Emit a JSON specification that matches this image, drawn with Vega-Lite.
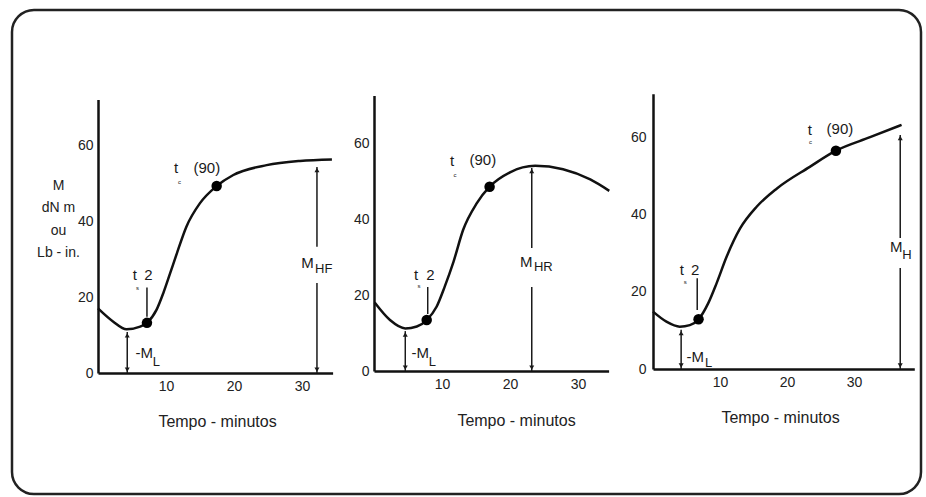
{
  "$schema": "https://vega.github.io/schema/vega-lite/v6.json",
  "width": 909,
  "height": 484,
  "autosize": {"type": "none"},
  "padding": {"left": 12, "top": 10, "right": 5, "bottom": 3},
  "background": "#ffffff",
  "config": {
    "view": {"stroke": "#222222", "strokeWidth": 2.5, "cornerRadius": 22},
    "axis": {
      "ticks": false, "grid": false,
      "domainWidth": 2.5, "domainColor": "#111111",
      "labelFont": "Liberation Sans", "labelFontSize": 14, "labelColor": "#222222", "labelFlush": false,
      "titleFont": "Liberation Sans", "titleFontSize": 16, "titleFontWeight": "normal", "titleColor": "#222222"
    },
    "text": {"font": "Liberation Sans", "color": "#1a1a1a", "align": "center", "baseline": "middle"}
  },
  "datasets": {
    "p1": [
      {"kind": "curve", "t": 0, "M": 17.0}, {"kind": "curve", "t": 2.25, "M": 13.5}, {"kind": "curve", "t": 4.2, "M": 11.5},
      {"kind": "curve", "t": 6.2, "M": 12.2}, {"kind": "curve", "t": 7.2, "M": 13.2}, {"kind": "curve", "t": 8.6, "M": 16.6},
      {"kind": "curve", "t": 9.6, "M": 21.0}, {"kind": "curve", "t": 10.6, "M": 26.2}, {"kind": "curve", "t": 11.6, "M": 31.5},
      {"kind": "curve", "t": 13.0, "M": 38.5}, {"kind": "curve", "t": 15.0, "M": 44.7}, {"kind": "curve", "t": 17.45, "M": 49.2},
      {"kind": "curve", "t": 19.9, "M": 52.1}, {"kind": "curve", "t": 24.8, "M": 54.7}, {"kind": "curve", "t": 29.7, "M": 55.8},
      {"kind": "curve", "t": 34.4, "M": 56.2},
      {"kind": "dot", "t": 7.2, "M": 13.2}, {"kind": "dot", "t": 17.45, "M": 49.2},
      {"kind": "rule", "t": 7.2, "M": 22.5, "M2": 14.8},
      {"kind": "rule", "t": 4.3, "M": 0, "M2": 10.8},
      {"kind": "rule", "t": 32.2, "M": 0, "M2": 23.7},
      {"kind": "rule", "t": 32.2, "M": 33.2, "M2": 54.2},
      {"kind": "up", "t": 4.3, "M": 9.9}, {"kind": "up", "t": 32.2, "M": 53.4},
      {"kind": "down", "t": 4.3, "M": 0.9}, {"kind": "down", "t": 32.2, "M": 0.9},
      {"kind": "text", "t": 5.4, "M": 25.8, "label": "t"}, {"kind": "text", "t": 7.4, "M": 25.8, "label": "2"},
      {"kind": "text", "t": 11.5, "M": 53.9, "label": "t"}, {"kind": "text", "t": 16.0, "M": 53.9, "label": "(90)"},
      {"kind": "text", "t": 6.8, "M": 5.2, "label": "-M"}, {"kind": "text", "t": 30.8, "M": 28.9, "label": "M"},
      {"kind": "sub", "t": 8.6, "M": 2.8, "label": "L"}, {"kind": "sub", "t": 33.2, "M": 27.4, "label": "HF"},
      {"kind": "tiny", "t": 5.8, "M": 22.4, "label": "s"}, {"kind": "tiny", "t": 12.0, "M": 50.3, "label": "c"}
    ],
    "p2": [
      {"kind": "curve", "t": 0.1, "M": 18.0}, {"kind": "curve", "t": 2.35, "M": 13.4}, {"kind": "curve", "t": 4.6, "M": 11.2},
      {"kind": "curve", "t": 6.3, "M": 11.7}, {"kind": "curve", "t": 7.75, "M": 13.4}, {"kind": "curve", "t": 9.2, "M": 16.9},
      {"kind": "curve", "t": 10.4, "M": 22.2}, {"kind": "curve", "t": 11.7, "M": 28.8}, {"kind": "curve", "t": 13.1, "M": 37.1},
      {"kind": "curve", "t": 15.1, "M": 44.1}, {"kind": "curve", "t": 17.0, "M": 48.5}, {"kind": "curve", "t": 20.0, "M": 52.3},
      {"kind": "curve", "t": 23.7, "M": 54.0}, {"kind": "curve", "t": 27.8, "M": 53.1}, {"kind": "curve", "t": 31.8, "M": 50.4},
      {"kind": "curve", "t": 34.6, "M": 47.4},
      {"kind": "dot", "t": 7.75, "M": 13.4}, {"kind": "dot", "t": 17.0, "M": 48.5},
      {"kind": "rule", "t": 7.9, "M": 22.1, "M2": 15.0},
      {"kind": "rule", "t": 4.6, "M": 0, "M2": 10.5},
      {"kind": "rule", "t": 23.2, "M": 0, "M2": 22.1},
      {"kind": "rule", "t": 23.2, "M": 32.4, "M2": 53.4},
      {"kind": "up", "t": 4.6, "M": 9.6}, {"kind": "up", "t": 23.2, "M": 52.6},
      {"kind": "down", "t": 4.6, "M": 0.9}, {"kind": "down", "t": 23.2, "M": 0.9},
      {"kind": "text", "t": 6.2, "M": 25.3, "label": "t"}, {"kind": "text", "t": 8.3, "M": 25.3, "label": "2"},
      {"kind": "text", "t": 11.5, "M": 55.3, "label": "t"}, {"kind": "text", "t": 16.0, "M": 55.5, "label": "(90)"},
      {"kind": "text", "t": 6.8, "M": 4.7, "label": "-M"}, {"kind": "text", "t": 22.4, "M": 28.7, "label": "M"},
      {"kind": "sub", "t": 24.9, "M": 27.4, "label": "HR"}, {"kind": "sub", "t": 8.6, "M": 2.4, "label": "L"},
      {"kind": "tiny", "t": 6.6, "M": 22.4, "label": "s"}, {"kind": "tiny", "t": 11.9, "M": 51.6, "label": "c"}
    ],
    "p3": [
      {"kind": "curve", "t": 0, "M": 14.9}, {"kind": "curve", "t": 2.0, "M": 12.3}, {"kind": "curve", "t": 4.0, "M": 11.0},
      {"kind": "curve", "t": 5.5, "M": 11.4}, {"kind": "curve", "t": 6.8, "M": 12.9}, {"kind": "curve", "t": 8.25, "M": 17.1},
      {"kind": "curve", "t": 9.5, "M": 22.3}, {"kind": "curve", "t": 11.0, "M": 29.2}, {"kind": "curve", "t": 13.0, "M": 36.5},
      {"kind": "curve", "t": 15.5, "M": 42.2}, {"kind": "curve", "t": 18.5, "M": 46.9}, {"kind": "curve", "t": 23.4, "M": 52.5},
      {"kind": "curve", "t": 27.3, "M": 56.7}, {"kind": "curve", "t": 32.4, "M": 60.2}, {"kind": "curve", "t": 37.1, "M": 63.4},
      {"kind": "dot", "t": 6.8, "M": 12.9}, {"kind": "dot", "t": 27.3, "M": 56.7},
      {"kind": "rule", "t": 6.6, "M": 23.6, "M2": 15.3},
      {"kind": "rule", "t": 4.2, "M": 0, "M2": 10.2},
      {"kind": "rule", "t": 36.9, "M": 0, "M2": 26.2},
      {"kind": "rule", "t": 36.9, "M": 34.0, "M2": 60.8},
      {"kind": "up", "t": 4.2, "M": 9.3}, {"kind": "up", "t": 36.9, "M": 60.0},
      {"kind": "down", "t": 4.2, "M": 0.9}, {"kind": "down", "t": 36.9, "M": 0.9},
      {"kind": "text", "t": 4.3, "M": 25.7, "label": "t"}, {"kind": "text", "t": 6.3, "M": 25.7, "label": "2"},
      {"kind": "text", "t": 23.4, "M": 62.1, "label": "t"}, {"kind": "text", "t": 27.9, "M": 62.3, "label": "(90)"},
      {"kind": "text", "t": 6.3, "M": 3.2, "label": "-M"}, {"kind": "text", "t": 36.3, "M": 31.7, "label": "M"},
      {"kind": "sub", "t": 8.3, "M": 1.6, "label": "L"}, {"kind": "sub", "t": 37.9, "M": 29.6, "label": "H"},
      {"kind": "tiny", "t": 4.8, "M": 22.6, "label": "s"}, {"kind": "tiny", "t": 23.5, "M": 59.0, "label": "c"}
    ]
  },
  "resolve": {"scale": {"x": "independent", "y": "independent"}, "axis": {"x": "independent", "y": "independent"}},
  "layer": [
    {
      "data": {"name": "p1"},
      "transform": [{"filter": "datum.kind == 'curve'"}],
      "mark": {"type": "line", "interpolate": "monotone", "color": "#111111", "strokeWidth": 2.5},
      "encoding": {
        "x": {"field": "t", "type": "quantitative",
          "scale": {"domain": [0, 34.5], "range": [86, 320.6], "nice": false, "zero": false},
          "axis": {"orient": "bottom", "offset": -121, "values": [10, 20, 30], "labelPadding": 6,
            "title": "Tempo - minutos", "titleX": 205, "titleY": 48, "titleAlign": "center", "titleBaseline": "middle"}},
        "y": {"field": "M", "type": "quantitative",
          "scale": {"domain": [0, 72], "range": [363, 89.4], "nice": false, "zero": false},
          "axis": {"orient": "left", "offset": -86, "values": [0, 20, 40, 60], "labelPadding": 5,
            "title": ["M", "dN m", "ou", "Lb - in."], "titleAngle": 0, "titleX": -40, "titleY": 175,
            "titleAlign": "center", "titleBaseline": "middle", "titleLineHeight": 22.5, "titleFontSize": 14}}
      }
    },
    {
      "data": {"name": "p1"},
      "transform": [{"filter": "datum.kind == 'rule'"}],
      "mark": {"type": "rule", "color": "#1a1a1a", "strokeWidth": 1.5},
      "encoding": {
        "x": {"field": "t", "type": "quantitative", "scale": {"domain": [0, 34.5], "range": [86, 320.6], "nice": false, "zero": false}, "axis": null},
        "y": {"field": "M", "type": "quantitative", "scale": {"domain": [0, 72], "range": [363, 89.4], "nice": false, "zero": false}, "axis": null},
        "y2": {"field": "M2"}
      }
    },
    {
      "data": {"name": "p1"},
      "transform": [{"filter": "datum.kind == 'up' || datum.kind == 'down'"}],
      "mark": {"type": "point", "filled": true, "size": 25, "color": "#1a1a1a", "opacity": 1},
      "encoding": {
        "x": {"field": "t", "type": "quantitative", "scale": {"domain": [0, 34.5], "range": [86, 320.6], "nice": false, "zero": false}, "axis": null},
        "y": {"field": "M", "type": "quantitative", "scale": {"domain": [0, 72], "range": [363, 89.4], "nice": false, "zero": false}, "axis": null},
        "shape": {"field": "kind", "type": "nominal", "scale": {"domain": ["up", "down"], "range": ["triangle-up", "triangle-down"]}, "legend": null}
      }
    },
    {
      "data": {"name": "p1"},
      "transform": [{"filter": "datum.kind == 'dot'"}],
      "mark": {"type": "point", "shape": "circle", "filled": true, "size": 110, "color": "#000000", "opacity": 1},
      "encoding": {
        "x": {"field": "t", "type": "quantitative", "scale": {"domain": [0, 34.5], "range": [86, 320.6], "nice": false, "zero": false}, "axis": null},
        "y": {"field": "M", "type": "quantitative", "scale": {"domain": [0, 72], "range": [363, 89.4], "nice": false, "zero": false}, "axis": null}
      }
    },
    {
      "data": {"name": "p1"},
      "transform": [{"filter": "datum.kind == 'text' || datum.kind == 'sub' || datum.kind == 'tiny'"}],
      "mark": {"type": "text"},
      "encoding": {
        "x": {"field": "t", "type": "quantitative", "scale": {"domain": [0, 34.5], "range": [86, 320.6], "nice": false, "zero": false}, "axis": null},
        "y": {"field": "M", "type": "quantitative", "scale": {"domain": [0, 72], "range": [363, 89.4], "nice": false, "zero": false}, "axis": null},
        "text": {"field": "label"},
        "size": {"field": "kind", "type": "ordinal", "scale": {"type": "ordinal", "domain": ["text", "sub", "tiny"], "range": [15, 13, 6]}, "legend": null}
      }
    },
    {
      "data": {"name": "p2"},
      "transform": [{"filter": "datum.kind == 'curve'"}],
      "mark": {"type": "line", "interpolate": "monotone", "color": "#111111", "strokeWidth": 2.5},
      "encoding": {
        "x": {"field": "t", "type": "quantitative",
          "scale": {"domain": [0, 34.5], "range": [362, 596.6], "nice": false, "zero": false},
          "axis": {"orient": "bottom", "offset": -123, "values": [10, 20, 30], "labelPadding": 6,
            "title": "Tempo - minutos", "titleX": 504, "titleY": 49, "titleAlign": "center", "titleBaseline": "middle"}},
        "y": {"field": "M", "type": "quantitative",
          "scale": {"domain": [0, 72.5], "range": [361, 85.5], "nice": false, "zero": false},
          "axis": {"orient": "left", "offset": -362, "values": [0, 20, 40, 60], "labelPadding": 5, "title": null}}
      }
    },
    {
      "data": {"name": "p2"},
      "transform": [{"filter": "datum.kind == 'rule'"}],
      "mark": {"type": "rule", "color": "#1a1a1a", "strokeWidth": 1.5},
      "encoding": {
        "x": {"field": "t", "type": "quantitative", "scale": {"domain": [0, 34.5], "range": [362, 596.6], "nice": false, "zero": false}, "axis": null},
        "y": {"field": "M", "type": "quantitative", "scale": {"domain": [0, 72.5], "range": [361, 85.5], "nice": false, "zero": false}, "axis": null},
        "y2": {"field": "M2"}
      }
    },
    {
      "data": {"name": "p2"},
      "transform": [{"filter": "datum.kind == 'up' || datum.kind == 'down'"}],
      "mark": {"type": "point", "filled": true, "size": 25, "color": "#1a1a1a", "opacity": 1},
      "encoding": {
        "x": {"field": "t", "type": "quantitative", "scale": {"domain": [0, 34.5], "range": [362, 596.6], "nice": false, "zero": false}, "axis": null},
        "y": {"field": "M", "type": "quantitative", "scale": {"domain": [0, 72.5], "range": [361, 85.5], "nice": false, "zero": false}, "axis": null},
        "shape": {"field": "kind", "type": "nominal", "scale": {"domain": ["up", "down"], "range": ["triangle-up", "triangle-down"]}, "legend": null}
      }
    },
    {
      "data": {"name": "p2"},
      "transform": [{"filter": "datum.kind == 'dot'"}],
      "mark": {"type": "point", "shape": "circle", "filled": true, "size": 110, "color": "#000000", "opacity": 1},
      "encoding": {
        "x": {"field": "t", "type": "quantitative", "scale": {"domain": [0, 34.5], "range": [362, 596.6], "nice": false, "zero": false}, "axis": null},
        "y": {"field": "M", "type": "quantitative", "scale": {"domain": [0, 72.5], "range": [361, 85.5], "nice": false, "zero": false}, "axis": null}
      }
    },
    {
      "data": {"name": "p2"},
      "transform": [{"filter": "datum.kind == 'text' || datum.kind == 'sub' || datum.kind == 'tiny'"}],
      "mark": {"type": "text"},
      "encoding": {
        "x": {"field": "t", "type": "quantitative", "scale": {"domain": [0, 34.5], "range": [362, 596.6], "nice": false, "zero": false}, "axis": null},
        "y": {"field": "M", "type": "quantitative", "scale": {"domain": [0, 72.5], "range": [361, 85.5], "nice": false, "zero": false}, "axis": null},
        "text": {"field": "label"},
        "size": {"field": "kind", "type": "ordinal", "scale": {"type": "ordinal", "domain": ["text", "sub", "tiny"], "range": [15, 13, 6]}, "legend": null}
      }
    },
    {
      "data": {"name": "p3"},
      "transform": [{"filter": "datum.kind == 'curve'"}],
      "mark": {"type": "line", "interpolate": "monotone", "color": "#111111", "strokeWidth": 2.5},
      "encoding": {
        "x": {"field": "t", "type": "quantitative",
          "scale": {"domain": [0, 39], "range": [641, 902.3], "nice": false, "zero": false},
          "axis": {"orient": "bottom", "offset": -125, "values": [10, 20, 30], "labelPadding": 6,
            "title": "Tempo - minutos", "titleX": 768, "titleY": 48, "titleAlign": "center", "titleBaseline": "middle"}},
        "y": {"field": "M", "type": "quantitative",
          "scale": {"domain": [0, 71.5], "range": [359, 83.7], "nice": false, "zero": false},
          "axis": {"orient": "left", "offset": -641, "values": [0, 20, 40, 60], "labelPadding": 7, "title": null}}
      }
    },
    {
      "data": {"name": "p3"},
      "transform": [{"filter": "datum.kind == 'rule'"}],
      "mark": {"type": "rule", "color": "#1a1a1a", "strokeWidth": 1.5},
      "encoding": {
        "x": {"field": "t", "type": "quantitative", "scale": {"domain": [0, 39], "range": [641, 902.3], "nice": false, "zero": false}, "axis": null},
        "y": {"field": "M", "type": "quantitative", "scale": {"domain": [0, 71.5], "range": [359, 83.7], "nice": false, "zero": false}, "axis": null},
        "y2": {"field": "M2"}
      }
    },
    {
      "data": {"name": "p3"},
      "transform": [{"filter": "datum.kind == 'up' || datum.kind == 'down'"}],
      "mark": {"type": "point", "filled": true, "size": 25, "color": "#1a1a1a", "opacity": 1},
      "encoding": {
        "x": {"field": "t", "type": "quantitative", "scale": {"domain": [0, 39], "range": [641, 902.3], "nice": false, "zero": false}, "axis": null},
        "y": {"field": "M", "type": "quantitative", "scale": {"domain": [0, 71.5], "range": [359, 83.7], "nice": false, "zero": false}, "axis": null},
        "shape": {"field": "kind", "type": "nominal", "scale": {"domain": ["up", "down"], "range": ["triangle-up", "triangle-down"]}, "legend": null}
      }
    },
    {
      "data": {"name": "p3"},
      "transform": [{"filter": "datum.kind == 'dot'"}],
      "mark": {"type": "point", "shape": "circle", "filled": true, "size": 110, "color": "#000000", "opacity": 1},
      "encoding": {
        "x": {"field": "t", "type": "quantitative", "scale": {"domain": [0, 39], "range": [641, 902.3], "nice": false, "zero": false}, "axis": null},
        "y": {"field": "M", "type": "quantitative", "scale": {"domain": [0, 71.5], "range": [359, 83.7], "nice": false, "zero": false}, "axis": null}
      }
    },
    {
      "data": {"name": "p3"},
      "transform": [{"filter": "datum.kind == 'text' || datum.kind == 'sub' || datum.kind == 'tiny'"}],
      "mark": {"type": "text"},
      "encoding": {
        "x": {"field": "t", "type": "quantitative", "scale": {"domain": [0, 39], "range": [641, 902.3], "nice": false, "zero": false}, "axis": null},
        "y": {"field": "M", "type": "quantitative", "scale": {"domain": [0, 71.5], "range": [359, 83.7], "nice": false, "zero": false}, "axis": null},
        "text": {"field": "label"},
        "size": {"field": "kind", "type": "ordinal", "scale": {"type": "ordinal", "domain": ["text", "sub", "tiny"], "range": [15, 13, 6]}, "legend": null}
      }
    }
  ]
}
